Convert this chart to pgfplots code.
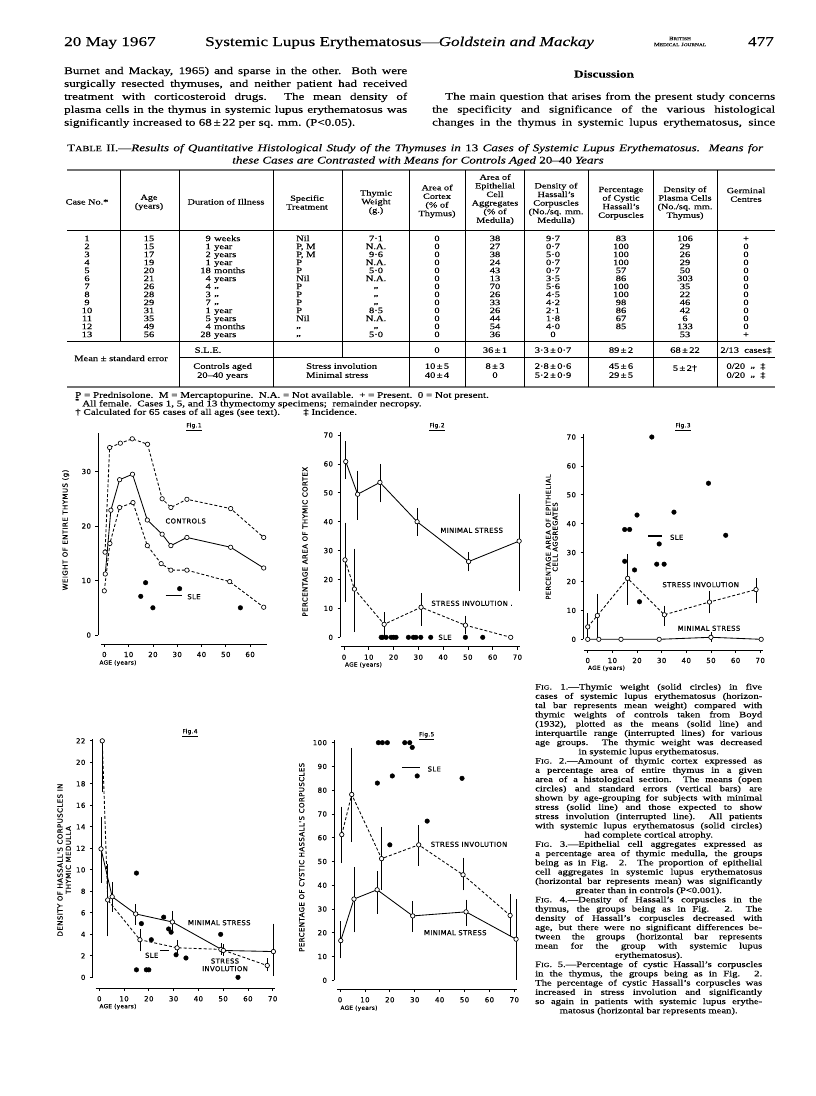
\documentclass[border=0pt]{standalone}
\usepackage{fontspec}
\setmainfont{Liberation Serif}[FakeStretch=1.28, FakeBold=0.2]
\newfontfamily\figr{DejaVu Sans}[LetterSpace=6, FakeBold=0.3]
\usepackage{pgfplots}
\pgfplotsset{compat=1.18}

\newcommand\ff[1]{\fontsize{#1}{#1}\selectfont}
\newcommand\J[1]{\hbox to\hsize{#1}}
\newcommand\C[1]{\hbox to\hsize{\hss#1\hss}}
\newcommand\FIG{F{\fontsize{6.2}{6}\selectfont IG}.}
\newcommand\dit{\raisebox{1.2pt}{„}}
\newcommand\tb[3]{\node[anchor=base] at (#1,{-(#2)-2.8}) {#3};}
\newcommand\fl[3]{\node[font=\figr\ff{6.8}] at (#1,-#2) {#3};}

\pgfplotsset{
  fig/.style={anchor=south west, clip=false, enlargelimits=false,
    axis x line=bottom, axis y line=left,
    axis line style={-},
    every outer x axis line/.append style={-},
    every outer y axis line/.append style={-},
    tick align=outside, major tick length=2.8pt,
    tick style={black, line width=0.7pt},
    tick label style={font=\figr\ff{7}},
    /pgf/number format/assume math mode=true,
    yticklabel style={xshift=-1pt},
    xticklabel style={yshift=-1.5pt}},
  ms/.style={black, line width=0.85pt, mark=*, mark size=2.2pt,
    mark options={fill=white, solid, line width=0.65pt}},
  si/.style={ms, dash pattern=on 3pt off 2pt},
  sle/.style={black, only marks, mark=*, mark size=2.3pt},
  bar/.style={black, line width=1.3pt, mark=none},
  eb/.style={black, only marks, mark=none, error bars/.cd, y dir=both, y explicit,
    error mark options={black, mark size=2pt, line width=0.65pt},
    error bar style={line width=0.65pt, solid}},
}

\begin{document}
\begin{tikzpicture}[x=1pt,y=1pt]
\fill[white] (0,0) rectangle (816,-1096);
\useasboundingbox (0,0) rectangle (816,-1096);

% ---- running head
\node[anchor=base west, inner sep=0] at (64,-46) {\ff{13.4}20 May 1967};
\node[anchor=base west, inner sep=0] at (205,-46) {\ff{13.4}Systemic Lupus Erythematosus—\textit{Goldstein and Mackay}};
\node[anchor=base east, inner sep=0] at (774,-46) {\ff{13.4}477};
\node[inner sep=0] at (680,-38.5) {\ff{5.2}B{\ff{4.2}RITISH}};
\node[inner sep=0] at (680,-44.5) {\ff{5.2}M{\ff{4.2}EDICAL} J{\ff{4.2}OURNAL}};

% ---- text columns
\node[anchor=base west, inner sep=0] at (64,-74) {\begin{minipage}[t]{343pt}\fontsize{10.2}{12.93}\selectfont
\J{Burnet and Mackay, 1965) and sparse in the other.\ \ Both were}
\J{surgically resected thymuses, and neither patient had received}
\J{treatment with corticosteroid drugs.\ \ The mean density of}
\J{plasma cells in the thymus in systemic lupus erythematosus was}
\hbox{significantly increased to 68\,±\,22 per sq. mm. (P<0.05).}
\end{minipage}};
\node[inner sep=0] at (604,-74) {\ff{10.4}\bfseries Discussion};
\node[anchor=base west, inner sep=0] at (432,-99.7) {\begin{minipage}[t]{343pt}\fontsize{10.2}{12.93}\selectfont
\J{\hskip13pt The main question that arises from the present study concerns}
\J{the specificity and significance of the various histological}
\J{changes in the thymus in systemic lupus erythematosus, since}
\end{minipage}};

% ---- table title
\node[anchor=base west, inner sep=0] at (67,-151.2) {\ff{10.2}\hbox to 696pt{T{\ff{8}ABLE} II.—\textit{Results of Quantitative Histological Study of the Thymuses in} 13 \textit{Cases of Systemic Lupus Erythematosus.\ \ Means for}}};
\node[anchor=base, inner sep=0] at (418,-163.5) {\ff{10.2}\textit{these Cases are Contrasted with Means for Controls Aged} 20–40 \textit{Years}};

% ---- table rules
\draw[line width=1.6pt, black!55] (67,-170) -- (775,-170);
\draw[line width=0.6pt] (67,-230) -- (775,-230);
\draw[line width=0.6pt] (67,-341.7) -- (775,-341.7);
\draw[line width=0.5pt] (179,-357.3) -- (775,-357.3);
\draw[line width=1.4pt, black!55] (67,-387) -- (775,-387);
\foreach \x in {179,273,409,465,524,588,653,717} \draw[line width=0.5pt] (\x,-170) -- (\x,-387);
\draw[line width=0.5pt] (120,-170) -- (120,-341.7);
\draw[line width=0.5pt] (342,-170) -- (342,-357.3);

\begin{scope}[every node/.style={inner sep=0pt, font=\ff{8}}]
\tb{87}{201.7}{Case No.*}
\tb{149}{197.1}{Age} \tb{149}{205.7}{(years)}
\tb{226}{201.7}{Duration of Illness}
\tb{307}{198.1}{Specific} \tb{307}{206.7}{Treatment}
\tb{376}{192.8}{Thymic} \tb{376}{201.4}{Weight} \tb{376}{210}{(g.)}
\tb{437}{187.5}{Area of} \tb{437}{196.1}{Cortex} \tb{437}{204.7}{(\% of} \tb{437}{213.3}{Thymus)}
\tb{495}{177}{Area of} \tb{495}{185.6}{Epithelial} \tb{495}{194.2}{Cell} \tb{495}{202.8}{Aggregates} \tb{495}{211.4}{(\% of} \tb{495}{220}{Medulla)}
\tb{556}{185.6}{Density of} \tb{556}{194.2}{Hassall’s} \tb{556}{202.8}{Corpuscles} \tb{556}{211.4}{(No./sq. mm.} \tb{556}{220}{Medulla)}
\tb{621}{189.2}{Percentage} \tb{621}{197.8}{of Cystic} \tb{621}{206.4}{Hassall’s} \tb{621}{215}{Corpuscles}
\tb{685}{189.2}{Density of} \tb{685}{197.8}{Plasma Cells} \tb{685}{206.4}{(No./sq. mm.} \tb{685}{215}{Thymus)}
\tb{746}{190.4}{Germinal} \tb{746}{199}{Centres}
\end{scope}

\begin{scope}[every node/.style={inner sep=0pt, font=\ff{8.2}}]
\foreach \n/\ag/\dn/\du/\tr/\tw/\ep/\hd/\cy/\pl/\gc [count=\k from 0] in {
 1/15/9/weeks/Nil/7·1/38/9·7/83/106/+,
 2/15/1/year/{P, M}/N.A./27/0·7/100/29/0,
 3/17/2/years/{P, M}/9·6/38/5·0/100/26/0,
 4/19/1/year/P/N.A./24/0·7/100/29/0,
 5/20/18/months/P/5·0/43/0·7/57/50/0,
 6/21/4/years/Nil/N.A./13/3·5/86/303/0,
 7/26/4/\dit/P/\dit/70/5·6/100/35/0,
 8/28/3/\dit/P/\dit/26/4·5/100/22/0,
 9/29/7/\dit/P/\dit/33/4·2/98/46/0,
 10/31/1/year/P/8·5/26/2·1/86/42/0,
 11/35/5/years/Nil/N.A./44/1·8/67/6/0,
 12/49/4/months/\dit/\dit/54/4·0/85/133/0,
 13/56/28/years/\dit/5·0/36/0//53/+}{
  \pgfmathsetmacro\yy{-241.1-8*\k}
  \node[anchor=base] at (87,\yy) {\n};
  \node[anchor=base] at (149,\yy) {\ag};
  \node[anchor=base east] at (211,\yy) {\dn};
  \node[anchor=base west] at (214,\yy) {\du};
  \node[anchor=base west] at (296,\yy) {\tr};
  \node[anchor=base] at (376,\yy) {\tw};
  \node[anchor=base] at (437,\yy) {0};
  \node[anchor=base] at (495,\yy) {\ep};
  \node[anchor=base] at (553,\yy) {\hd};
  \node[anchor=base] at (621,\yy) {\cy};
  \node[anchor=base] at (685,\yy) {\pl};
  \node[anchor=base] at (746,\yy) {\gc};
}
\tb{121}{358.3}{Mean ± standard error}
\tb{208}{350}{S.L.E.}
\tb{437}{350}{0} \tb{495}{350}{36\,±\,1} \tb{553}{350}{3·3\,±\,0·7} \tb{621}{350}{89\,±\,2} \tb{685}{350}{68\,±\,22} \tb{746}{350}{2/13\ \ cases‡}
\tb{222.6}{366}{Controls aged} \tb{222.6}{375}{20–40 years}
\node[anchor=base west] at (306,-368.8) {Stress involution};
\node[anchor=base west] at (306,-377.8) {Minimal stress};
\tb{437}{366}{10\,±\,5} \tb{437}{375}{40\,±\,4}
\tb{495}{366}{8\,±\,3} \tb{495}{375}{0}
\tb{553}{366}{2·8\,±\,0·6} \tb{553}{375}{5·2\,±\,0·9}
\tb{621}{366}{45\,±\,6} \tb{621}{375}{29\,±\,5}
\tb{685}{368}{5\,±\,2†}
\tb{746}{366}{0/20\ \ \dit\ \ ‡} \tb{746}{375}{0/20\ \ \dit\ \ ‡}
\end{scope}

% ---- table footnotes
\begin{scope}[every node/.style={inner sep=0pt, font=\ff{8.6}, anchor=base west}]
\node at (75,-397.8) {P = Prednisolone.\ \ M = Mercaptopurine.\ \ N.A. = Not available.\ \ + = Present.\ \ 0 = Not present.};
\node at (75,-406.3) {\textsuperscript{*} All female.\ \ Cases 1, 5, and 13 thymectomy specimens;\ \ remainder necropsy.};
\node at (75,-414.8) {† Calculated for 65 cases of all ages (see text).};
\node at (303,-414.8) {‡ Incidence.};
\end{scope}

% ================= Fig 1
\begin{axis}[fig, at={(98.3pt,-644pt)}, x=2.43pt, y=5.45pt,
  xmin=-2.47, xmax=67, ymin=-1.65, ymax=37.1,
  xtick={0,10,...,60}, ytick={0,10,20,30},
  x axis line style={-, line width=0.8pt, shorten <=3pt},
  y axis line style={-, line width=0.8pt, shorten <=9pt}]
\addplot[si] coordinates {(0.3,15.2)(2.2,34.4)(6.6,35.2)(11.5,36.0)(17.8,35.0)(23.8,25.0)(27.4,23.4)(34,24.9)(52,23.2)(65.6,17.9)};
\addplot[si] coordinates {(0,8.1)(2.3,16.8)(6.3,23.4)(11.8,24.3)(17.7,16.4)(23.4,13.1)(27.4,11.9)(34,11.9)(51.6,9.8)(65.6,5.1)};
\addplot[ms] coordinates {(0.4,11.2)(2.7,22.9)(6.3,28.5)(11.6,29.5)(17.7,21.1)(23.8,18.5)(27.4,16.4)(34,17.9)(52,16.1)(65.6,12.3)};
\addplot[sle] coordinates {(15,7.1)(17,9.6)(20,5.0)(31,8.5)(56,5.0)};
\addplot[bar] coordinates {(25.2,7.2)(31.8,7.2)};
\end{axis}
\fl{185.7}{521}{CONTROLS}
\fl{194}{596.7}{SLE}
\node[rotate=90, font=\figr\ff{7}] at (65.7,-530) {WEIGHT OF ENTIRE THYMUS (g)};
\node[anchor=west, font=\figr\ff{5.7}] at (96,-663) {AGE (years)};
\node[font=\figr\ff{5.8}] at (194,-426.7) {\underline{Fig.1}};

% ================= Fig 2
\begin{axis}[fig, at={(340.3pt,-646.7pt)}, x=2.477pt, y=2.89pt,
  xmin=-1.5, xmax=71, ymin=-3.25, ymax=71,
  xtick={0,10,...,70}, ytick={0,10,...,70},
  x axis line style={-, line width=0.8pt, shorten <=1pt},
  y axis line style={-, line width=0.8pt, shorten <=9.4pt}]
\addplot[eb] coordinates {(0.7,60.8) += (0,6.3) -= (0,5.4) (5.5,49.5) += (0,7.5) -= (0,8.2)
  (14.5,53.6) += (0,5.7) -= (0,6.2) (29.5,40.0) += (0,4.1) -= (0,4.2)
  (50.3,26.2) += (0,2.5) -= (0,2.7) (70.7,33.3) += (0,15.7) -= (0,16.6)};
\addplot[eb] coordinates {(0.4,26.8) += (0,12.2) -= (0,13.8) (4.2,16.7) += (0,13.3) -= (0,14.2)
  (16.2,4.5) += (0,3.5) -= (0,3.5) (31.1,10.4) += (0,4.1) -= (0,5.7)
  (49,4.2) += (0,2.6) -= (0,2.5)};
\addplot[ms] coordinates {(0.7,60.8)(5.5,49.5)(14.5,53.6)(29.5,40.0)(50.3,26.2)(70.7,33.3)};
\addplot[si] coordinates {(0.4,26.8)(4.2,16.7)(16.2,4.5)(31.1,10.4)(49,4.2)(67.3,0)};
\addplot[sle] coordinates {(15,0)(15.6,0)(17,0)(19,0)(20,0)(21,0)(26,0)(28,0)(29,0)(31,0)(35,0)(49,0)(56,0)};
\end{axis}
\fl{471.7}{530.3}{MINIMAL STRESS}
\fl{472}{603.3}{STRESS INVOLUTION .}
\fl{445}{637.3}{SLE}
\node[rotate=90, font=\figr\ff{7}] at (305,-541.7) {PERCENTAGE AREA OF THYMIC CORTEX};
\node[anchor=west, font=\figr\ff{5.7}] at (341.5,-665) {AGE (years)};
\node[font=\figr\ff{5.8}] at (437,-426.7) {\underline{Fig.2}};

% ================= Fig 3
\begin{axis}[fig, at={(583.3pt,-650pt)}, x=2.464pt, y=2.89pt,
  xmin=-1.8, xmax=71, ymin=-3.7, ymax=71,
  xtick={0,10,...,70}, ytick={0,10,...,70},
  x axis line style={-, line width=0.8pt, shorten <=1pt},
  y axis line style={-, line width=0.8pt, shorten <=10.7pt}]
\addplot[eb] coordinates {(0,4.3) += (0,4.0) -= (0,3.8) (3.9,8.2) += (0,6.8) -= (0,7.2)
  (16.2,21.1) += (0,7.7) -= (0,8.5) (31.1,8.5) += (0,2.5) -= (0,3.1)
  (49.4,12.9) += (0,3.2) -= (0,3.2) (68.3,17.2) += (0,3.3) -= (0,4.0)};
\addplot[eb] coordinates {(50,0.7) += (0,1.1) -= (0,0.9)};
\addplot[si] coordinates {(0,4.3)(3.9,8.2)(16.2,21.1)(31.1,8.5)(49.4,12.9)(68.3,17.2)};
\addplot[ms] coordinates {(0,0)(4.5,0)(13.5,0)(29,0)(50,0.7)(70.4,0)};
\addplot[sle] coordinates {(15,38)(15,27)(17,38)(19,24)(20,43)(21,13)(26,70)(28,26)(29,33)(31,26)(35,44)(49,54)(56,36)};
\addplot[bar] coordinates {(24.6,35.7)(30,35.7)};
\end{axis}
\fl{676.7}{537.3}{SLE}
\fl{700.7}{584.7}{STRESS INVOLUTION}
\fl{709}{628.3}{MINIMAL STRESS}
\node[rotate=90, align=center, font=\figr\fontsize{6.7}{6.9}\selectfont] at (551.7,-537) {PERCENTAGE AREA OF EPITHELIAL\\CELL AGGREGATES};
\node[anchor=west, font=\figr\ff{5.7}] at (584.5,-668.3) {AGE (years)};
\node[font=\figr\ff{5.8}] at (683,-426.7) {\underline{Fig.3}};

% ================= Fig 4
\begin{axis}[fig, at={(92.7pt,-988.3pt)}, x=2.477pt, y=10.75pt,
  xmin=-2.66, xmax=71, ymin=-1.02, ymax=22.2,
  xtick={0,10,...,70}, ytick={0,2,...,22},
  x axis line style={-, line width=0.8pt, shorten <=3pt},
  y axis line style={-, line width=0.8pt, shorten <=11pt}]
\addplot[eb] coordinates {(0.7,11.95) += (0,2.75) -= (0,2.95) (5.2,7.5) += (0,1.2) -= (0,1.2)
  (14.7,5.9) += (0,0.7) -= (0,0.8) (29.5,5.15) += (0,0.85) -= (0,0.75)
  (50.1,2.5) += (0,0.4) -= (0,0.3) (70.3,2.4) += (0,2.4) -= (0,2.1)};
\addplot[eb] coordinates {(1.2,22.0) += (0,0) -= (0,4.6) (3.4,7.2) += (0,3.2) -= (0,3.2)
  (16.4,3.5) += (0,0.8) -= (0,0.9) (31.4,2.75) += (0,0.55) -= (0,0.35)
  (49.1,2.6) += (0,0.4) -= (0,0.3) (67.8,1.1) += (0,0.5) -= (0,0.35)};
\addplot[si] coordinates {(1.2,22.0)(3.4,7.2)(16.4,3.5)(31.4,2.75)(49.1,2.6)(67.8,1.1)};
\addplot[ms] coordinates {(0.7,11.95)(5.2,7.5)(14.7,5.9)(29.5,5.15)(50.1,2.5)(70.3,2.4)};
\addplot[sle] coordinates {(15,9.7)(15,0.7)(17,5.0)(19,0.7)(20,0.7)(21,3.5)(26,5.6)(28,4.5)(29,4.2)(31,2.1)(35,1.8)(49,4.0)(56,0)};
\addplot[bar] coordinates {(24.5,2.5)(28.3,2.5)};
\end{axis}
\fl{219.3}{922.7}{MINIMAL STRESS}
\fl{151.7}{955.3}{SLE}
\fl{225}{961}{STRESS}
\fl{225}{968.7}{INVOLUTION}
\node[rotate=90, align=center, font=\figr\fontsize{7}{8.3}\selectfont] at (64.2,-860) {DENSITY OF HASSALL'S CORPUSCLES IN\\THYMIC MEDULLA};
\node[anchor=west, font=\figr\ff{5.7}] at (96,-1006.7) {AGE (years)};
\node[font=\figr\ff{5.8}] at (190,-732.7) {\underline{Fig.4}};

% ================= Fig 5
\begin{axis}[fig, at={(334.3pt,-989.3pt)}, x=2.49pt, y=2.376pt,
  xmin=-2.3, xmax=71, ymin=-3.8, ymax=101,
  xtick={0,10,...,70}, ytick={0,10,...,100},
  x axis line style={-, line width=0.8pt, shorten <=3pt},
  y axis line style={-, line width=0.8pt, shorten <=9pt}]
\addplot[eb] coordinates {(0.3,16.7) += (0,7.2) -= (0,6.6) (5.6,34.2) += (0,12.5) -= (0,13.2)
  (14.9,38.1) += (0,6.9) -= (0,9.3) (29.2,27.1) += (0,5.4) -= (0,6.0)
  (50.6,28.8) += (0,4.3) -= (0,5.0) (70.7,17.3) += (0,16) -= (0,16.3)};
\addplot[eb] coordinates {(0.7,61.3) += (0,10.9) -= (0,11.2) (4.7,78.2) += (0,18.8) -= (0,19.2)
  (16.7,51.2) += (0,12.5) -= (0,12.4) (31.6,57.0) += (0,7.4) -= (0,8.0)
  (49.4,44.4) += (0,6.4) -= (0,5.7) (68.3,27.3) += (0,8.0) -= (0,8.0)};
\addplot[ms] coordinates {(0.3,16.7)(5.6,34.2)(14.9,38.1)(29.2,27.1)(50.6,28.8)(70.7,17.3)};
\addplot[si] coordinates {(0.7,61.3)(4.7,78.2)(16.7,51.2)(31.6,57.0)(49.4,44.4)(68.3,27.3)};
\addplot[sle] coordinates {(15,83)(15.4,100)(17,100)(19,100)(20,57)(21,86)(26,100)(28,100)(29,98)(31,86)(35,67)(49,85)};
\addplot[bar] coordinates {(24.8,89.5)(32.1,89.5)};
\end{axis}
\fl{434.3}{769}{SLE}
\fl{469}{844.3}{STRESS INVOLUTION}
\fl{455.3}{932.7}{MINIMAL STRESS}
\node[rotate=90, font=\figr\ff{7}] at (301.7,-857.3) {PERCENTAGE OF CYSTIC HASSALL'S CORPUSCLES};
\node[anchor=west, font=\figr\ff{5.7}] at (337,-1008.3) {AGE (years)};
\node[font=\figr\ff{5.8}] at (426.7,-735.7) {\underline{Fig.5}};

% ---- figure legends
\node[anchor=base west, inner sep=0] at (535,-689.5) {\begin{minipage}[t]{227pt}\fontsize{8.3}{9.25}\selectfont
\J{\FIG\ 1.—Thymic weight (solid circles) in five}
\J{cases of systemic lupus erythematosus (horizon-}
\J{tal bar represents mean weight) compared with}
\J{thymic weights of controls taken from Boyd}
\J{(1932), plotted as the means (solid line) and}
\J{interquartile range (interrupted lines) for various}
\J{age groups.\ \ The thymic weight was decreased}
\C{in systemic lupus erythematosus.}
\J{\FIG\ 2.—Amount of thymic cortex expressed as}
\J{a percentage area of entire thymus in a given}
\J{area of a histological section.\ \ The means (open}
\J{circles) and standard errors (vertical bars) are}
\J{shown by age-grouping for subjects with minimal}
\J{stress (solid line) and those expected to show}
\J{stress involution (interrupted line).\ \ All patients}
\J{with systemic lupus erythematosus (solid circles)}
\C{had complete cortical atrophy.}
\J{\FIG\ 3.—Epithelial cell aggregates expressed as}
\J{a percentage area of thymic medulla, the groups}
\J{being as in Fig. 2.\ \ The proportion of epithelial}
\J{cell aggregates in systemic lupus erythematosus}
\J{(horizontal bar represents mean) was significantly}
\C{greater than in controls (P<0.001).}
\J{\FIG\ 4.—Density of Hassall’s corpuscles in the}
\J{thymus, the groups being as in Fig. 2.\ \ The}
\J{density of Hassall’s corpuscles decreased with}
\J{age, but there were no significant differences be-}
\J{tween the groups (horizontal bar represents}
\J{mean for the group with systemic lupus}
\C{erythematosus).}
\J{\FIG\ 5.—Percentage of cystic Hassall’s corpuscles}
\J{in the thymus, the groups being as in Fig. 2.}
\J{The percentage of cystic Hassall’s corpuscles was}
\J{increased in stress involution and significantly}
\J{so again in patients with systemic lupus erythe-}
\C{matosus (horizontal bar represents mean).}
\end{minipage}};
\end{tikzpicture}
\end{document}
